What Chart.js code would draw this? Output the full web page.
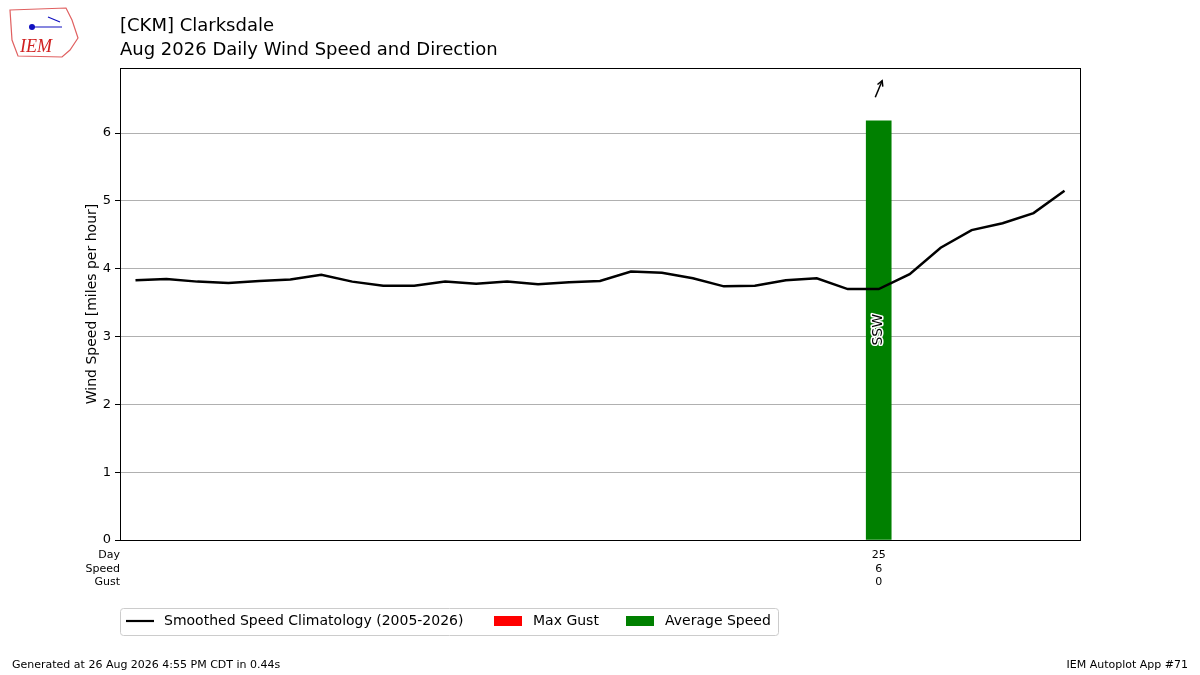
<!DOCTYPE html>
<html><head><meta charset="utf-8">
<script src="https://cdn.jsdelivr.net/npm/chart.js@4"></script>
<style>body{margin:0;background:#fff}#c{display:block}</style>
</head><body>
<div style="width:1200px;height:675px"><canvas id="c"></canvas></div>
<script>
// climatology, day 1..31
const days = [1,2,3,4,5,6,7,8,9,10,11,12,13,14,15,16,17,18,19,20,21,22,23,24,25,26,27,28,29,30,31];
const climo = [3.83,3.85,3.81,3.79,3.82,3.84,3.91,3.81,3.75,3.75,3.81,3.78,3.81,3.77,3.80,3.82,3.96,3.94,3.86,3.74,3.75,3.83,3.86,3.70,3.70,3.92,4.31,4.57,4.67,4.82,5.15];
const obsDays = [25];
const obsSpeed = [6.18];
const obsGust = [0];
const obsDir = ['SSW'];
const obsDeg = [202.5];
const yTicks = [0,1,2,3,4,5,6];
const F = 'DejaVu Sans, sans-serif';

const extras = {
  id: 'extras',
  afterDraw(chart) {
    const c = chart.ctx, x = chart.scales.x, y = chart.scales.y, a = chart.chartArea;
    c.save();
    // border
    c.strokeStyle = '#000'; c.lineWidth = 1;
    c.strokeRect(a.left + 0.5, a.top + 0.5, a.right - a.left, a.bottom - a.top);
    // titles
    c.fillStyle = '#000'; c.font = '18px ' + F; c.textBaseline = 'alphabetic'; c.textAlign = 'left';
    c.fillText('[CKM] Clarksdale', 120, 31);
    c.fillText('Aug 2026 Daily Wind Speed and Direction', 120, 55);
    // y axis title
    c.save(); c.translate(92, (a.top + a.bottom) / 2); c.rotate(-Math.PI / 2);
    c.font = '14px ' + F; c.textAlign = 'center'; c.textBaseline = 'middle';
    c.fillText('Wind Speed [miles per hour]', 0, 0); c.restore();
    // logo
    c.strokeStyle = '#e06060'; c.lineWidth = 1.2;
    c.beginPath(); c.moveTo(10,10); c.lineTo(66,8); c.lineTo(72,20); c.lineTo(78,38); c.lineTo(70,50); c.lineTo(62,57); c.lineTo(18,56); c.lineTo(12,40); c.closePath(); c.stroke();
    c.fillStyle = '#d02020'; c.font = 'italic 18px Liberation Serif, serif'; c.fillText('IEM', 20, 52);
    c.strokeStyle = '#1010c0'; c.beginPath(); c.moveTo(30,27); c.lineTo(62,27); c.moveTo(48,17); c.lineTo(60,22); c.stroke();
    c.fillStyle = '#1010c0'; c.beginPath(); c.arc(32,27,3,0,Math.PI*2); c.fill();
    // bottom table
    c.fillStyle = '#000'; c.font = '11px ' + F; c.textAlign = 'right'; c.textBaseline = 'middle';
    c.fillText('Day', 120, 555); c.fillText('Speed', 120, 569); c.fillText('Gust', 120, 582);
    c.textAlign = 'center';
    obsDays.forEach((d, i) => {
      const px = x.getPixelForValue(d);
      c.fillText(String(d), px, 555);
      c.fillText(String(Math.round(obsSpeed[i])), px, 569);
      c.fillText(String(obsGust[i]), px, 582);
      // direction text
      const py = y.getPixelForValue(3.1);
      c.save(); c.translate(px, py); c.rotate(-Math.PI / 2);
      c.font = '14px ' + F; c.lineWidth = 3; c.strokeStyle = '#fff'; c.lineJoin = 'round';
      c.strokeText(obsDir[i], 0, 0); c.fillStyle = '#000'; c.fillText(obsDir[i], 0, 0);
      c.restore();
      // arrow (direction wind blows toward)
      const ang = (obsDeg[i] + 180) * Math.PI / 180;
      const cy = y.getPixelForValue(6.65), L = 9;
      const dx = Math.sin(ang) * L, dy = -Math.cos(ang) * L;
      c.strokeStyle = '#000'; c.lineWidth = 1.5;
      c.beginPath(); c.moveTo(px - dx, cy - dy); c.lineTo(px + dx, cy + dy); c.stroke();
      const hx = px + dx, hy = cy + dy, ha = Math.atan2(dy, dx);
      c.beginPath();
      c.moveTo(hx - 6 * Math.cos(ha - 0.5), hy - 6 * Math.sin(ha - 0.5));
      c.lineTo(hx, hy);
      c.lineTo(hx - 6 * Math.cos(ha + 0.5), hy - 6 * Math.sin(ha + 0.5));
      c.stroke();
    });
    // legend
    c.strokeStyle = '#ccc'; c.lineWidth = 1;
    c.beginPath(); c.roundRect(120.5, 608.5, 658, 27, 3); c.stroke();
    c.strokeStyle = '#000'; c.lineWidth = 2.2;
    c.beginPath(); c.moveTo(126, 621); c.lineTo(154, 621); c.stroke();
    c.fillStyle = 'red'; c.fillRect(494, 616, 28, 10);
    c.fillStyle = 'green'; c.fillRect(626, 616, 28, 10);
    c.fillStyle = '#000'; c.font = '14px ' + F; c.textAlign = 'left';
    c.fillText('Smoothed Speed Climatology (2005-2026)', 164, 621);
    c.fillText('Max Gust', 533, 621);
    c.fillText('Average Speed', 665, 621);
    // footer
    c.font = '11px ' + F;
    c.fillText('Generated at 26 Aug 2026 4:55 PM CDT in 0.44s', 12, 665);
    c.textAlign = 'right'; c.fillText('IEM Autoplot App #71', 1188, 665);
    c.restore();
  }
};

new Chart(document.getElementById('c'), {
  data: {
    datasets: [
      { type: 'line', data: days.map((d, i) => ({ x: d, y: climo[i] })), borderColor: '#000', borderWidth: 2.5, pointRadius: 0, tension: 0, order: 0 },
      { type: 'bar', data: obsDays.map((d, i) => ({ x: d, y: obsSpeed[i] })), backgroundColor: 'green', barThickness: 25, order: 1 }
    ]
  },
  options: {
    responsive: true, maintainAspectRatio: false, animation: false,
    layout: { padding: { top: 68, right: 120, left: 0, bottom: 0 } },
    plugins: { legend: { display: false }, tooltip: { enabled: false } },
    scales: {
      x: {
        type: 'linear', min: 0.5, max: 31.5, offset: false,
        grid: { display: false, drawTicks: false }, border: { display: false },
        ticks: { display: false },
        afterFit(s) { s.height = 135; }
      },
      y: {
        min: 0, max: 6.96,
        afterBuildTicks(s) { s.ticks = yTicks.map(v => ({ value: v })); },
        grid: { color: '#b0b0b0', tickLength: 5, tickColor: '#000' },
        border: { display: false },
        ticks: { color: '#000', font: { family: F, size: 13 }, padding: 4 },
        afterFit(s) { s.width = 120; }
      }
    }
  },
  plugins: [extras]
});
</script>
</body></html>
